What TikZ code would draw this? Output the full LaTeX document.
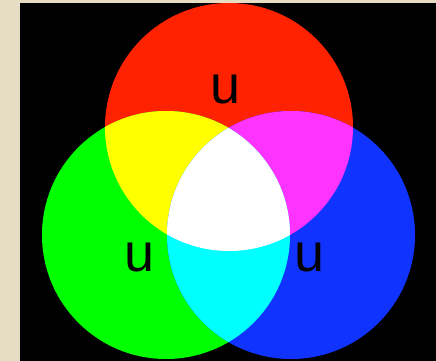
\documentclass[tikz,border=0pt]{standalone}
\usepackage{fontspec}
\setmainfont{Liberation Sans}

\definecolor{paper}{RGB}{230,221,196}
\definecolor{lightred}{RGB}{255,34,0}
\definecolor{lightgreen}{RGB}{0,255,0}
\definecolor{lightblue}{RGB}{17,51,255}
\definecolor{mixyellow}{RGB}{255,255,0}
\definecolor{mixmagenta}{RGB}{255,51,255}
\definecolor{mixcyan}{RGB}{0,255,255}

\begin{document}
\begin{tikzpicture}[
				x=1pt, y=-1pt,
				every node/.style={font=\fontsize{54}{54}\selectfont},
				letter/.style={anchor=base, text=black, inner sep=0pt},
				disc/.style={radius=124pt}
				]
				% Background
				\fill[paper] (0,0) rectangle (436,361);
				\fill[black] (20,3) rectangle (436,361);
				\useasboundingbox (0,0) rectangle (436,361);
				
				% Centres
				\coordinate (red) at (229,127);
				\coordinate (green) at (166,235);
				\coordinate (blue) at (291,235);
				
				% Circles
				\fill[lightred] (red) circle [disc];
				\fill[lightgreen] (green) circle [disc];
				\fill[lightblue] (blue) circle [disc];
				
				% Overlaps
				\begin{scope}
					\clip (red) circle [disc];
					\fill[mixyellow] (green) circle [disc];
					\fill[mixmagenta] (blue) circle [disc];
				\end{scope}
				\begin{scope}
					\clip (green) circle [disc];
					\fill[mixcyan] (blue) circle [disc];
				\end{scope}
				\begin{scope}
					\clip (red) circle [disc];
					\clip (green) circle [disc];
					\fill[white] (blue) circle [disc];
				\end{scope}
				
				% Labels
				\node (ured) [letter] at (226,103) {u};
				\node (ugreen) [letter] at (140,271) {u};
				\node (ublue) [letter] at (310,271) {u};
			\end{tikzpicture}
\end{document}
